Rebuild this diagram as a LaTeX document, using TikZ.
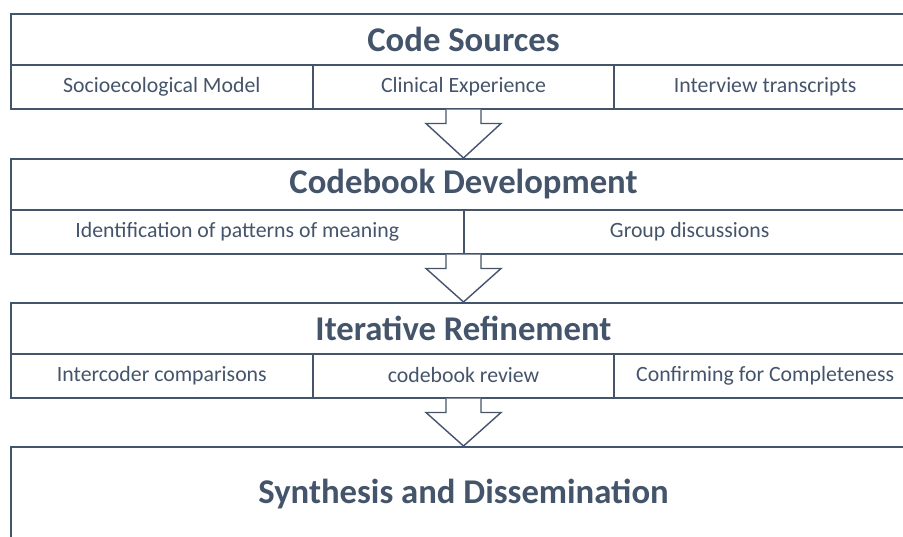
\documentclass[tikz,border=0pt]{standalone}
\usepackage{fontspec}
\setmainfont{Carlito}
\usetikzlibrary{calc}
\definecolor{slate}{HTML}{44546A}

\begin{document}
\begin{tikzpicture}[x=1pt, y=-1pt,
		cell/.style={draw=slate, line width=2pt, inner sep=0pt, anchor=north west, minimum height=44pt, text=slate, font=\fontsize{21.8}{24}\selectfont},
		head/.style={cell, minimum width=905pt, minimum height=50.5pt, font=\bfseries\fontsize{34.7}{38}\selectfont},
		flow/.style={draw=slate, line width=1.4pt, fill=white}]
		\useasboundingbox (0,0) rectangle (903,536);

		% Draw code sources
		\node[head] (src) at (10,13) {Code Sources};
		\node[cell, minimum width=301.7pt] (srcA) at (10,63.5) {Socioecological Model};
		\node[cell, minimum width=301.7pt] (srcB) at (311.7,63.5) {Clinical Experience};
		\node[cell, minimum width=301.7pt] (srcC) at (613.3,63.5) {Interview transcripts};

		% Draw codebook development
		\node[head] (dev) at (10,158) {Codebook Development};
		\node[cell, minimum width=452.5pt] (devA) at (10,208.5) {Identification of patterns of meaning};
		\node[cell, minimum width=452.5pt] (devB) at (462.5,208.5) {Group discussions};

		% Draw iterative refinement
		\node[head] (ref) at (10,302) {Iterative Refinement};
		\node[cell, minimum width=301.7pt] (refA) at (10,352.5) {Intercoder comparisons};
		\node[cell, minimum width=301.7pt] (refB) at (311.7,352.5) {codebook review};
		\node[cell, minimum width=301.7pt] (refC) at (613.3,352.5) {Confirming for Completeness};

		% Draw synthesis
		\node[head, minimum height=94pt] (syn) at (10,446) {Synthesis and Dissemination};

		% Block arrows between the stages
		\foreach \t/\s/\n in {src/srcA/dev, dev/devA/ref, ref/refA/syn} {
			\coordinate (top) at (\t.center |- \s.south);
			\draw[flow] ($(top)+(-17.5,0)$) -- ++(0,14) -- ++(-20,0) -- (\n.north)
				-- ($(top)+(37.5,14)$) -- ++(-20,0) -- ++(0,-14);
		}
	\end{tikzpicture}
\end{document}
